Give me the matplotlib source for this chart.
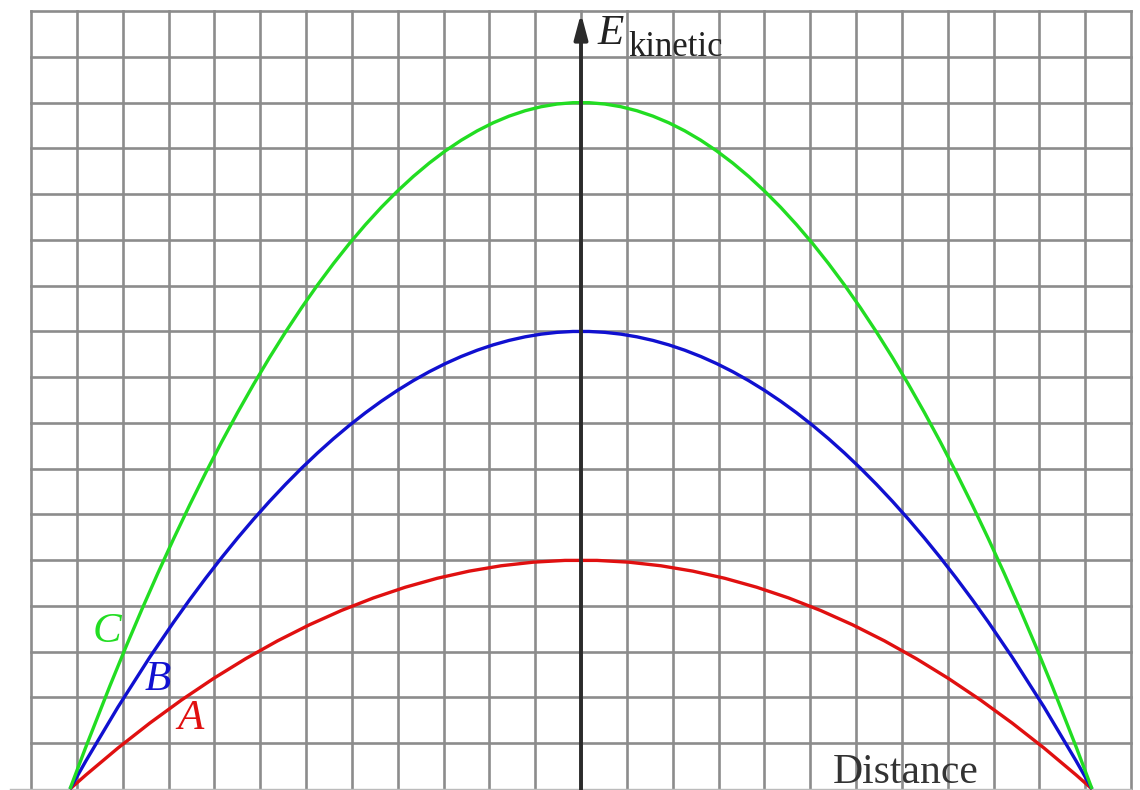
import matplotlib
matplotlib.use("Agg")
import matplotlib.pyplot as plt
from matplotlib.path import Path
from matplotlib.patches import PathPatch

# kinetic energy curves: peak heights (grid units) and where they reach zero
curve_names = ["A", "B", "C"]
peak_energy = [5, 10, 15]
zero_distance = [-11.15, 11.15]
curve_colors = ["#e01010", "#1010d0", "#22dd22"]
label_pos = [(-8.51, 1.53), (-9.23, 2.38), (-10.34, 3.43)]

grid_x = list(range(-12, 13))
grid_y = list(range(0, 18))

fig = plt.figure(figsize=(11.4, 7.9), dpi=100)
ax = fig.add_axes([31 / 1140, 1 / 790, 1100 / 1140, 778 / 790])
ax.set_xlim(grid_x[0], grid_x[-1])
ax.set_ylim(grid_y[0], grid_y[-1])
ax.axis("off")

# graph paper
for gx in grid_x:
  ax.plot([gx, gx], [grid_y[0], grid_y[-1]], color="#8c8c8c", lw=1.9, clip_on=False, zorder=1)
for gy in grid_y[1:]:
  ax.plot([grid_x[0], grid_x[-1]], [gy, gy], color="#8c8c8c", lw=1.9, clip_on=False, zorder=1)
ax.plot([grid_x[0] - 0.45, grid_x[-1]], [0, 0], color="#bbbbbb", lw=1.0, clip_on=False, zorder=1)

# parabolas drawn as quadratic bezier (control point at twice the peak)
x0, x1 = zero_distance
for h, col in zip(peak_energy, curve_colors):
  path = Path([(x0, 0), ((x0 + x1) / 2, 2 * h), (x1, 0)],
              [Path.MOVETO, Path.CURVE3, Path.CURVE3])
  ax.add_patch(PathPatch(path, facecolor="none", edgecolor=col, lw=2.4, zorder=3, clip_on=False))

for name, (lx, ly), col in zip(curve_names, label_pos, curve_colors):
  ax.text(lx, ly, name, color=col, fontsize=31, fontstyle="italic",
          family="Liberation Serif", ha="center", va="center", zorder=4)

# vertical energy axis with arrow
ax.annotate("", xy=(0, 16.95), xytext=(0, -0.1),
            arrowprops=dict(arrowstyle="-|>,head_length=1.5,head_width=0.4",
                            color="#2b2b2b", lw=2.8, shrinkA=0, shrinkB=0),
            zorder=5, annotation_clip=False)

ax.text(0.37, 16.28, "E", fontsize=31, fontstyle="italic", family="Liberation Serif",
        color="#222222", va="baseline", ha="left", zorder=6)
ax.text(1.03, 16.02, "kinetic", fontsize=25, family="Liberation Serif",
        color="#222222", va="baseline", ha="left", zorder=6)
ax.text(5.5, 0.13, "Distance", fontsize=30, family="Liberation Serif",
        color="#333333", va="baseline", ha="left", zorder=6)

fig.savefig("out.png", dpi=100, facecolor="white")
